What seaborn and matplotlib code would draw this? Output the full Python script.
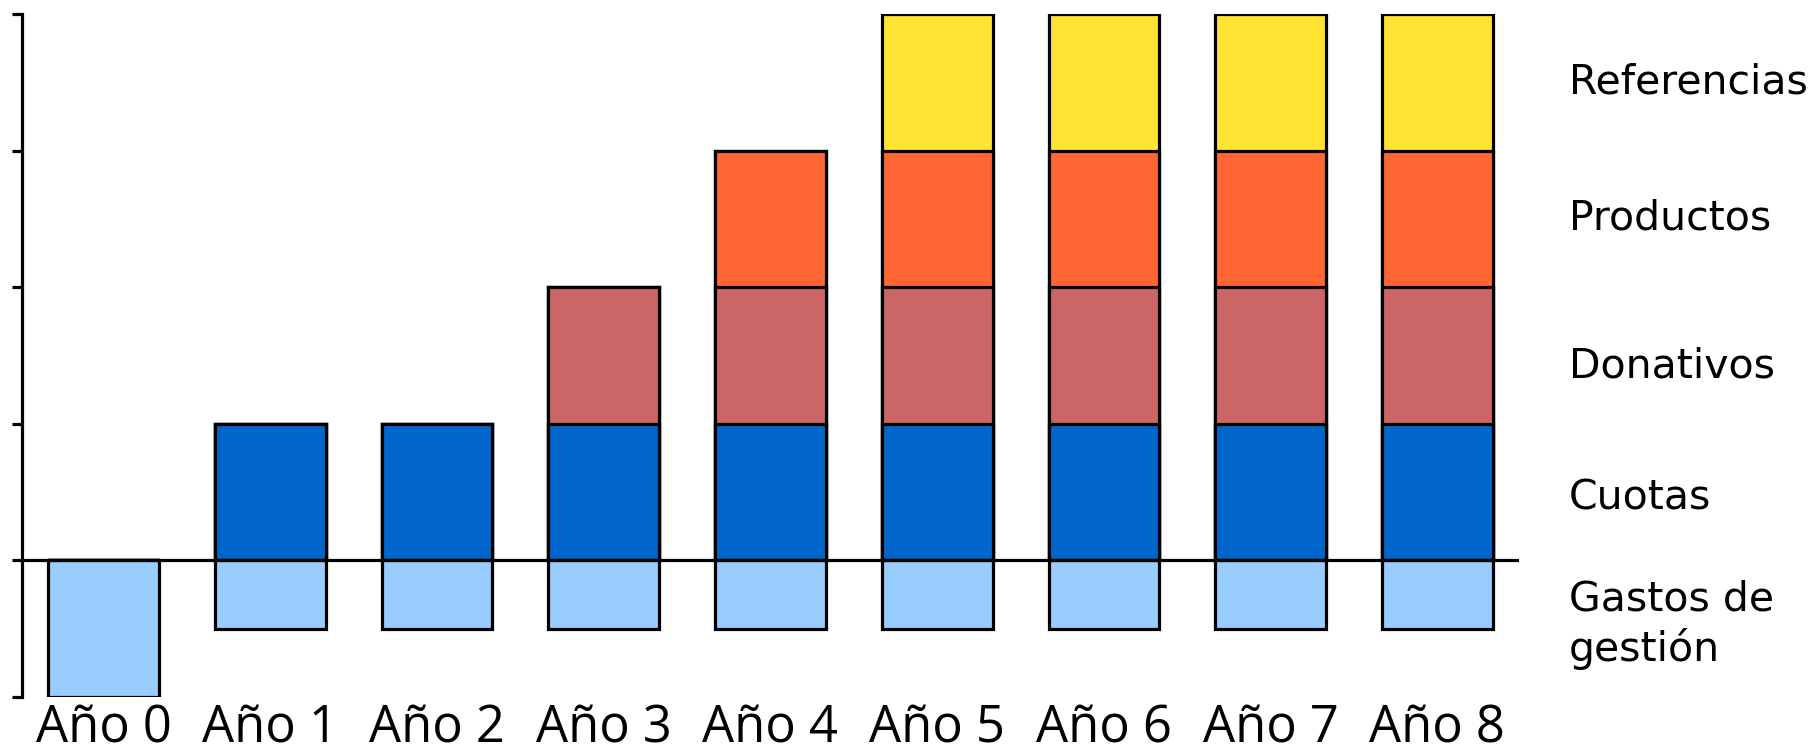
import matplotlib
matplotlib.use("Agg")
import matplotlib.pyplot as plt
import numpy as np
import pandas as pd
import seaborn as sns

# Income sources per year, stacked above zero; management costs below zero
years = ["Año 0", "Año 1", "Año 2", "Año 3", "Año 4", "Año 5", "Año 6", "Año 7", "Año 8"]
gastos = [-1.0, -0.5, -0.5, -0.5, -0.5, -0.5, -0.5, -0.5, -0.5]
cuotas = [0, 1, 1, 1, 1, 1, 1, 1, 1]
donativos = [0, 0, 0, 1, 1, 1, 1, 1, 1]
productos = [0, 0, 0, 0, 1, 1, 1, 1, 1]
referencias = [0, 0, 0, 0, 0, 1, 1, 1, 1]

series_names = ["Cuotas", "Donativos", "Productos", "Referencias"]
series_colors = {
    "Gastos de gestión": "#99CCFF",
    "Cuotas": "#0066CC",
    "Donativos": "#CC6666",
    "Productos": "#FF6633",
    "Referencias": "#FFE433",
}
label_y = {
    "Referencias": 3.5,
    "Productos": 2.5,
    "Donativos": 1.42,
    "Cuotas": 0.45,
    "Gastos de gestión": -0.47,
}

sns.set_style("white")
plt.rcParams["font.family"] = ["DejaVu Sans"]
plt.rcParams["text.color"] = "black"
plt.rcParams["xtick.color"] = "black"
plt.rcParams["ytick.color"] = "black"

df = pd.DataFrame({
    "year": years,
    "Gastos de gestión": gastos,
    "Cuotas": cuotas,
    "Donativos": donativos,
    "Productos": productos,
    "Referencias": referencias,
})

# cumulative tops for the stacked layers
cum = df[series_names].cumsum(axis=1)

fig = plt.figure(figsize=(18.18, 7.56), dpi=100)
ax = fig.add_axes([0.0121, 0.078, 0.8234, 0.9034])

bar_width = 0.664
edge_lw = 2.3

# draw the tallest stack first, then overlay each lower cumulative level
for name in reversed(series_names):
    sns.barplot(data=cum.assign(year=years), x="year", y=name, order=years,
                color=series_colors[name], saturation=1, width=bar_width,
                edgecolor="black", linewidth=edge_lw, ax=ax, errorbar=None)

sns.barplot(data=df, x="year", y="Gastos de gestión", order=years,
            color=series_colors["Gastos de gestión"], saturation=1,
            width=bar_width, edgecolor="black", linewidth=edge_lw, ax=ax,
            errorbar=None)

ax.axhline(0, color="black", lw=edge_lw, zorder=5)

ax.set_xlim(-0.49, 8.49)
ax.set_ylim(-1, 4)
ax.set_xlabel("")
ax.set_ylabel("")

for side in ["top", "right", "bottom"]:
    ax.spines[side].set_visible(False)
ax.spines["left"].set_linewidth(edge_lw)
ax.spines["left"].set_color("black")

ax.set_yticks([-1, 0, 1, 2, 3, 4])
ax.set_yticklabels([])
ax.tick_params(axis="y", left=True, direction="out", length=7, width=edge_lw,
               color="black")
ax.tick_params(axis="x", bottom=False, pad=1)
ax.set_xticks(range(len(years)))
ax.set_xticklabels(years, fontsize=36.5, color="black",
                   family=["Open Sans", "DejaVu Sans"])

# category labels to the right of the stacks
for name, yv in label_y.items():
    text = "Gastos de\ngestión" if name == "Gastos de gestión" else name
    ax.text(8.79, yv, text, fontsize=29.5, va="center", ha="left",
            color="black", linespacing=1.25, clip_on=False)

fig.savefig("out.png", dpi=100)
